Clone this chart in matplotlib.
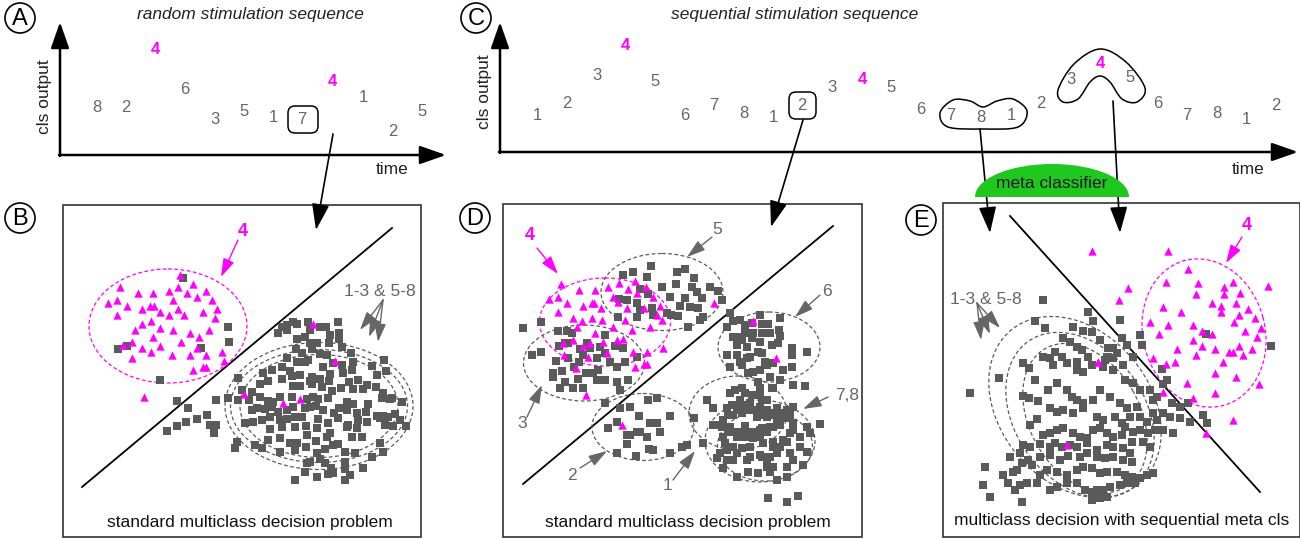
import numpy as np, matplotlib; matplotlib.use("Agg")
import matplotlib.pyplot as plt
from matplotlib.patches import Ellipse, Circle, Rectangle, FancyBboxPatch, PathPatch
from matplotlib.path import Path

plt.rcParams['font.family'] = ['Liberation Sans', 'DejaVu Sans']
GRAY = '#5a5a5a'; MAG = '#ff00ff'; TXT = '#666666'

# ---- sequences (time position, cls output position, label) ----
A_LAB = ['8', '2', '4', '6', '3', '5', '1', '7', '4', '1', '2', '5']
A_T = [97, 126, 155, 185, 215, 244, 273, 302, 332, 363, 393, 422]
A_OUT = [107, 107, 49, 90, 119, 112, 117, 119, 82, 98, 132, 112]
C_LAB = ['1', '2', '3', '4', '5', '6', '7', '8', '1', '2', '3', '4', '5',
         '6', '7', '8', '1', '2', '3', '4', '5', '6', '7', '8', '1', '2']
C_T = [537, 567, 597, 625, 655, 685, 714, 744, 773, 802, 832, 862, 891,
       921, 951, 981, 1011, 1041, 1071, 1100, 1130, 1158, 1187, 1217, 1246, 1276]
C_OUT = [115, 103, 75, 45, 82, 115, 106, 113, 117, 105, 88, 80, 88,
         110, 115, 117, 115, 103, 80, 63, 77, 103, 115, 113, 119, 105]

B_TRI_Z6 = [(120,82),(175,100),(220,100),(268,92),(295,80),(340,72),(378,92),(322,100),(350,110),(395,120),
            (85,128),(110,120),(140,137),(185,148),(210,137),(222,137),(240,157),(278,120),(295,147),(312,165),
            (368,156),(410,147),(110,165),(185,192),(212,183),(240,203),(267,165),(165,210),(278,210),(330,220),
            (358,230),(387,210),(405,175),(157,247),(130,255),(220,230),(240,257),(185,265),(212,275),(302,247),
            (157,293),(275,285),(330,285),(378,285),(350,265),(425,275),(368,320),(378,320),(340,330),(432,303),
            (193,412),(300,45)]
B_SQ_Z6 = [(308,55),(445,202),(448,245),(362,263),(115,267),(140,258),(240,360)]
B_SQ_Z3 = [(350,603),(322,692),(350,678),(377,665),(385,625),(410,658),(440,645)]
B_TRI_Z7 = [(310,42),(375,152),(102,253),(220,278),(270,267)]
B_SQ_Z7 = [(55,52),(58,95),(215,50),(230,45),(248,35),(262,42),(295,35),(330,50),(348,50),(385,35),
           (205,70),(232,60),(300,60),(360,75),(387,70),(262,88),(285,80),(300,100),(322,98),(358,98),(387,88),
           (258,118),(275,128),(305,118),(330,132),(350,135),(423,128),(395,110),
           (230,143),(262,155),(285,155),(295,150),(340,170),(370,160),(397,165),(428,155),(487,168),(522,150),
           (160,190),(185,180),(215,170),(240,182),(270,195),(305,200),(330,207),(360,192),(398,188),(425,180),
           (445,210),(500,195),(528,183),
           (85,203),(150,222),(175,213),(215,208),(245,198),(300,212),(357,212),(417,217),(470,225),(498,230),
           (95,240),(125,245),(250,227),(270,228),(305,222),(335,230),(365,243),(392,235),(430,236),(460,238),
           (520,250),(545,265),
           (55,263),(85,270),(118,270),(150,260),(175,272),(190,275),(210,260),(245,262),(290,268),(310,262),
           (325,268),(355,265),(410,275),(430,282),(475,283),(515,265),(540,268),(577,275),
           (125,300),(140,295),(165,298),(185,292),(205,305),(230,300),(250,292),(285,295),(300,292),(318,287),
           (340,300),(372,310),(387,295),(410,300),(440,310),(467,305),(500,318),(520,318),(535,322),(555,312),
           (105,340),(130,335),(155,330),(180,320),(210,330),(230,328),(255,320),(275,320),(325,328),(355,340),
           (385,325),(415,345),(445,330),(470,335),(510,325),(570,330),(588,348),
           (180,358),(215,350),(255,352),(288,348),(320,355),(360,368),(410,350),(440,355),(525,345),(550,348),
           (80,395),(135,405),(155,415),(175,390),(210,385),(240,400),(262,398),(290,375),(318,393),(350,380),
           (368,405),(385,402),(425,380),(457,380),(510,398),
           (75,415),(210,425),(255,420),(288,410),(320,430),(345,418),(405,425),(435,430),(485,440),(520,425),
           (290,458),(300,455),(345,460),(330,448),(362,475),(368,488),(405,455),(405,478),(460,475),(420,495),
           (255,510),(322,500),(355,492),(405,510),(285,485),
           (18,270),(18,345),(12,370),(0,345)]

D_TRI_Z8 = [(183,252),(238,270),(285,270),(148,298),(173,290),(200,308),(248,318),(275,308),(283,308),(302,325),
            (325,262),(340,290),(358,250),(385,268),(405,243),(410,280),(438,260),(458,290),(480,318),(355,305),
            (380,325),(432,325),(470,345),(175,335),(218,355),(245,362),(275,355),(305,360),(340,380),(375,360),
            (395,390),(450,380),(485,360),(230,380),(285,400),(190,428),(220,420),(250,437),(270,430),(310,425),
            (350,420),(368,418),(400,455),(440,455),(490,445),(192,465),(228,505),(405,500),(432,493),(442,493),
            (320,460),(265,470)]
D_TRI_Z9 = [(78,285),(185,375),(462,8),(580,62),(648,175)]
D_SQ_Z8 = [(370,225),(398,215),(453,198),(442,230),(420,268),(445,282),(412,310),(358,298),(410,352),(485,262),
           (510,290),(530,215),(555,208),(528,252),(582,235),(575,262),(592,275),(555,295),(540,318),(570,322),
           (595,325),(500,340),(512,345),(535,348),(565,380),(455,325),(460,345),
           (68,383),(122,367),(175,393),(200,393),(95,465),(122,455),(178,438),(195,430),(205,428),(168,483),
           (185,512),(158,520),(160,530),(215,398),(240,447),(260,430),(270,445),(290,475),(300,440),(315,458),
           (315,405),(345,438),(370,445),(350,500),(375,485),(410,470),(238,485),(258,520),(278,520),(222,500),
           (205,475),(250,465),(295,510),(330,485),(355,350),(380,300),(420,330)]
D_SQ_Z4 = [(605,295),(630,262),(655,272),(665,300),(600,360),(610,350)]
D_SQ_Z9 = [(15,245),(40,265),(70,265),(110,240),(135,240),(170,245),(180,270),(205,240),(0,265),(55,238),
           # cluster 2
           (135,310),(180,325),(210,322),(265,300),(292,293),(238,348),(270,368),(290,368),(330,348),(145,385),
           (170,365),(200,405),(210,405),(230,395),(262,412),(300,395),(200,432),(240,395),(268,448),(280,450),
           (330,460),(365,440),(172,460),(228,468),(380,435),
           # clusters 1, 7, 8
           (402,355),(430,430),(440,300),(460,325),(458,375),(470,375),(485,380),(490,360),(500,325),(515,315),
           (505,345),(520,345),(525,270),(545,265),(530,330),(540,325),(545,340),(555,315),(565,330),(570,310),
           (580,330),(590,350),(600,345),(600,320),(605,300),(620,300),(635,265),(640,265),(660,240),(600,285),
           (575,285),(555,280),(510,280),(600,265),(595,245),(540,300),(490,410),(505,395),(510,380),(520,395),
           (530,410),(540,395),(555,378),(560,400),(570,395),(580,395),(580,415),(585,405),(595,400),(600,390),
           (600,410),(605,385),(620,395),(630,380),(640,380),(650,370),(660,375),(670,350),(685,355),(690,345),
           (660,340),(650,345),(640,345),(620,350),(620,330),(630,340),(650,325),(680,330),(700,320),(700,370),
           (740,380),(780,372),(750,400),(720,410),(700,390),(690,400),(680,425),(670,420),(640,425),(640,440),
           (660,440),(650,460),(630,470),(620,480),(605,470),(600,465),(570,470),(545,445),(530,460),(520,440),
           (500,450),(495,430),(480,460),(470,475),(490,505),(530,530),(560,480),(565,515),(595,520),(620,500),
           (630,515),(640,500),(650,540),(680,530),(680,500),(700,480),(730,495),(690,460),(720,440),(740,455),
           (610,430),(570,440),(555,410),(520,480),(500,480),(625,595),(680,605),(715,588),
           # cluster 6
           (510,40),(520,62),(500,80),(540,60),(555,75),(575,70),(600,45),(605,72),(625,72),(660,55),
           (658,90),(660,108),(630,100),(605,100),(580,100),(555,100),(530,110),(530,135),(545,120),(560,140),
           (575,115),(600,125),(595,155),(605,160),(635,135),(655,130),(695,145),(695,165),(740,155),(530,165),
           (540,185),(545,195),(570,170),(560,175),(615,185),(600,210),(620,195),(640,190),(670,210),(695,200),
           (510,200),(580,215),(565,220),(630,230),(700,255),(735,258),(520,110),(500,165)]

E_SQ_Z10 = [(308,30),(90,308),(178,263),(445,65),(460,92),(400,110),(430,122),(455,125),(480,150),(540,90),
            (505,175),(520,175),(545,145),(560,165),(578,200),(605,165),(600,135),(315,115),(285,92),(370,145),
            (390,155),(410,170),(425,180),(445,200),(495,210),(520,205),(530,190),(500,200),(330,205),(365,200),
            (345,185),(248,220),(268,235),(310,200),(340,225),(380,220),(410,215),(410,240),(430,245),(455,225),
            (490,230),(520,240),(550,225),(555,270),(580,280),(600,300),(630,300),(640,330),(650,320),(285,270),
            (250,318),(268,325),(295,332),(325,300),(350,280),(380,300),(395,320),(410,330),(430,340),(460,330),
            (480,300),(510,320),(540,340),(560,355),(570,380),(590,350),(600,380),(620,395),(640,370),(650,390),
            (330,355),(350,365),(370,360),(400,370),(430,355),(470,380),(490,390),(525,380),(545,400),(555,410),
            (580,425),(600,420),(625,430),(645,420),(270,405),(290,388),(310,435),(330,430),(350,420),(370,415),
            (400,430),(420,440),(440,445),(460,420),(480,415),(500,430),(520,440),(545,435),(575,455),(610,455),
            (250,465),(270,470),(300,462),(330,472),(345,460),(365,470),(390,465),(410,470),(440,460),(470,480),
            (500,465),(520,470),(550,475),(570,490),(210,500),(240,490),(265,510),(300,500),(330,495),(360,510),
            (385,498),(420,500),(440,490),(470,500),(495,505),(520,500),(550,510),(575,515),(630,470),(640,550),
            (620,555),(600,565),(575,560),(555,555),(530,545),(500,545),(480,550),(455,535),(430,530),(410,540),
            (380,555),(350,545),(320,540),(300,555),(275,525),(245,520),(220,545),(190,555),(135,530),(130,585),
            (150,622),(205,580),(225,600),(240,585),(260,580),(290,578),(330,600),(350,590),(380,580),(410,580),
            (435,600),(455,605),(470,600),(490,600),(510,590),(540,585),(560,580),(585,580),(245,635),(455,630),
            (480,625),(500,620),(230,540)]
E_SQ_Z11 = [(245,508),(260,540),(250,552),(275,610),(300,620),(325,608),(370,645),(380,670),(300,655),(330,665),
            (270,650),(250,640),(250,690),(280,700),(378,402),(572,438)]
E_TRI_Z10 = [(475,215),(380,465)]
E_TRI_Z11 = [(35,152),(265,152),(325,207),(258,245),(355,250),(145,265),(118,300),(458,247),(432,262),(432,282),
             (348,282),(480,280),(565,258),(395,310),(422,318),(422,337),(468,310),(505,328),(248,320),(302,337),
             (210,365),(265,375),(340,375),(365,392),(395,402),(478,345),(525,355),(462,367),(542,383),(495,392),
             (238,402),(532,410),(340,420),(365,438),(292,448),(405,448),(448,457),(460,457),(478,438),(515,448),
             (488,465),(348,465),(220,475),(285,485),(430,485),(258,492),(55,485),(405,520),(468,530),(538,553),
             (320,548),(248,577),(405,580),(340,595),(458,660),(378,698)]


def px(p, x0, y0):
    a = np.array(p, float)
    return x0 + a[:, 0] / 3, y0 + a[:, 1] / 3


def smooth(pts):
    P = np.array(pts, float); n = len(P)
    verts = [P[0]]; codes = [Path.MOVETO]
    for i in range(n):
        p0, p1, p2, p3 = P[i - 1], P[i], P[(i + 1) % n], P[(i + 2) % n]
        verts += [p1 + (p2 - p0) / 6, p2 - (p3 - p1) / 6, p2]
        codes += [Path.CURVE4] * 3
    return Path(verts, codes)


fig = plt.figure(figsize=(13, 5.39), dpi=100)
ax = fig.add_axes([0, 0, 1, 1])
ax.set_xlim(0, 1300); ax.set_ylim(539, 0); ax.axis('off')


def arrow(a, b, c='k', lw=1.2, hl=0.9, hw=0.3, ms=20, z=5):
    ax.annotate('', xy=b, xytext=a, arrowprops=dict(
        arrowstyle='-|>,head_length=%g,head_width=%g' % (hl, hw), color=c, lw=lw,
        mutation_scale=ms, shrinkA=0, shrinkB=0), zorder=z)


def letter(x, y, s):
    ax.add_patch(Circle((x, y), 15, fill=False, ec='k', lw=1.2))
    ax.text(x, y + 1, s, ha='center', va='center', fontsize=17, color='k')


# ---- top panels A and C ----
for (x0, x1, ybase) in [(60, 446, 155), (500, 1298, 152)]:
    arrow((x0, ybase + 1), (x0, 22), lw=1.8, hl=1.0, hw=0.35, ms=16)
    arrow((x0 - 1, ybase), (x1, ybase), lw=1.8, hl=1.0, hw=0.35, ms=16)
ax.text(44, 97, 'cls output', rotation=90, ha='center', va='center', fontsize=12.5, color='#222')
ax.text(484, 92, 'cls output', rotation=90, ha='center', va='center', fontsize=12.5, color='#222')
ax.text(392, 169, 'time', ha='center', va='center', fontsize=12.5, color='#222')
ax.text(1248, 170, 'time', ha='center', va='center', fontsize=12.5, color='#222')
ax.text(250, 15, 'random stimulation sequence', ha='center', va='center', fontsize=12.5, style='italic', color='#222')
ax.text(795, 15, 'sequential stimulation sequence', ha='center', va='center', fontsize=12.5, style='italic', color='#222')
letter(20, 18, 'A'); letter(476, 18, 'C')

for lab, t, o in list(zip(A_LAB, A_T, A_OUT)) + list(zip(C_LAB, C_T, C_OUT)):
    if lab == '4':
        ax.text(t, o, lab, ha='center', va='center', fontsize=12, color=MAG, fontweight='bold')
    else:
        ax.text(t, o, lab, ha='center', va='center', fontsize=12, color=TXT)

ax.add_patch(FancyBboxPatch((288, 106), 30, 27, boxstyle='round,pad=0,rounding_size=7', fill=False, ec='k', lw=1.1))
ax.add_patch(FancyBboxPatch((789, 92), 27, 27, boxstyle='round,pad=0,rounding_size=7', fill=False, ec='k', lw=1.1))
ax.add_patch(PathPatch(smooth([(940, 113), (953, 100), (970, 101), (983, 107), (997, 101), (1013, 99),
                               (1027, 111), (1018, 127), (983, 129), (948, 127)]), fill=False, ec='k', lw=1.1))
ax.add_patch(PathPatch(smooth([(1058, 90), (1074, 64), (1100, 49), (1126, 62), (1145, 88), (1137, 102),
                               (1122, 99), (1110, 82), (1100, 76), (1090, 82), (1078, 99), (1063, 102)]),
                       fill=False, ec='k', lw=1.1))

# ---- arrows to lower panels ----
arrow((333, 134), (316, 230), ms=18)
arrow((803, 120), (771, 227), ms=18)
arrow((980, 129), (990, 233), ms=18)
arrow((1113, 101), (1120, 233), ms=18)
g = Ellipse((1052, 197), 154, 66, fc='#1fc81f', ec='none', zorder=6)
ax.add_patch(g)
g.set_clip_path(Rectangle((960, 150), 190, 47, transform=ax.transData))
ax.text(1052, 184, 'meta classifier', ha='center', va='center', fontsize=12.5, color='#1a1a1a', zorder=7)

# ---- lower panel frames ----
for (x0, y0, x1, y1) in [(63, 205, 421, 537), (503, 204, 862, 537), (943, 203, 1300, 537)]:
    ax.add_patch(Rectangle((x0, y0), x1 - x0, y1 - y0, fill=False, ec='#333', lw=1.2, zorder=1))
letter(20, 218, 'B'); letter(475, 218, 'D'); letter(921, 220, 'E')
ax.text(250, 522, 'standard multiclass decision problem', ha='center', va='center', fontsize=12.5, color='#111')
ax.text(688, 522, 'standard multiclass decision problem', ha='center', va='center', fontsize=12.5, color='#111')
ax.text(1122, 520, 'multiclass decision with sequential meta cls', ha='center', va='center', fontsize=12.5, color='#111')

SQ = dict(marker='s', s=32, c=GRAY, linewidths=0, zorder=3)
TR = dict(marker='^', s=36, c=MAG, linewidths=0, zorder=4)

# panel B
for arr, o in [(B_SQ_Z6, (80, 260)), (B_SQ_Z3, (60, 200)), (B_SQ_Z7, (210, 310))]:
    ax.scatter(*px(arr, *o), **SQ)
for arr, o in [(B_TRI_Z6, (80, 260)), (B_TRI_Z7, (210, 310))]:
    ax.scatter(*px(arr, *o), **TR)
ax.plot([82, 392], [487, 228], color='k', lw=1.3, zorder=2)
dash = (0, (3, 2))
ax.add_patch(Ellipse((168, 326), 158, 114, fill=False, ec=MAG, lw=0.9, ls=dash, zorder=2))
for w, h in [(188, 127), (177, 113), (158, 103)]:
    ax.add_patch(Ellipse((319, 406), w, h, fill=False, ec=GRAY, lw=0.9, ls=dash, zorder=2))
ax.text(243, 231, '4', ha='center', va='center', fontsize=13, color=MAG, fontweight='bold')
arrow((238, 240), (221, 277), c=MAG, lw=1.0, hl=0.8, hw=0.25, ms=14)
ax.text(380, 292, '1-3 & 5-8', ha='center', va='center', fontsize=12.5, color=TXT)
for tip in [(360, 330), (369, 337), (378, 342)]:
    arrow((383, 300), tip, c=TXT, lw=1.0, hl=0.8, hw=0.25, ms=14)

# panel D
for arr, o in [(D_SQ_Z8, (500, 200)), (D_SQ_Z4, (500, 200)), (D_SQ_Z9, (560, 300))]:
    ax.scatter(*px(arr, *o), **SQ)
for arr, o in [(D_TRI_Z8, (500, 200)), (D_TRI_Z9, (560, 300))]:
    ax.scatter(*px(arr, *o), **TR)
ax.plot([523, 833], [484, 226], color='k', lw=1.3, zorder=2)
ax.add_patch(Ellipse((605, 322), 131, 88, fill=False, ec=MAG, lw=0.9, ls=dash, zorder=2))
for (cx, cy, w, h) in [(662, 292, 122, 77), (584, 363, 121, 76), (769, 347, 102, 70), (643, 427, 102, 67),
                       (738, 413, 98, 74), (760, 441, 110, 82), (765, 446, 95, 70)]:
    ax.add_patch(Ellipse((cx, cy), w, h, fill=False, ec=GRAY, lw=0.9, ls=dash, zorder=2))
ax.text(530, 235, '4', ha='center', va='center', fontsize=13, color=MAG, fontweight='bold')
arrow((537, 248), (558, 274), c=MAG, lw=1.0, hl=0.8, hw=0.25, ms=14)
for s, tp, a, b in [('5', (717, 229), (712, 237), (687, 257)), ('6', (827, 291), (820, 295), (795, 317)),
                    ('7,8', (847, 395), (828, 397), (803, 409)), ('3', (522, 423), (527, 417), (542, 385)),
                    ('2', (572, 475), (580, 468), (607, 451)), ('1', (667, 486), (673, 480), (695, 451))]:
    ax.text(*tp, s, ha='center', va='center', fontsize=12.5, color=TXT)
    arrow(a, b, c=TXT, lw=1.0, hl=0.8, hw=0.25, ms=14)

# panel E
for arr, o in [(E_SQ_Z10, (940, 290)), (E_SQ_Z11, (1080, 200))]:
    ax.scatter(*px(arr, *o), **SQ)
for arr, o in [(E_TRI_Z10, (940, 290)), (E_TRI_Z11, (1080, 200))]:
    ax.scatter(*px(arr, *o), **TR)
ax.plot([1010, 1260], [216, 492], color='k', lw=1.3, zorder=2)
ax.add_patch(Ellipse((1204, 333), 150, 122, angle=75, fill=False, ec=MAG, lw=0.9, ls=dash, zorder=2))
for (cx, cy, w, h, an) in [(1075, 407, 200, 150, 50), (1080, 415, 180, 130, 55), (1085, 418, 160, 110, 60)]:
    ax.add_patch(Ellipse((cx, cy), w, h, angle=an, fill=False, ec=GRAY, lw=0.9, ls=dash, zorder=2))
ax.text(1247, 226, '4', ha='center', va='center', fontsize=13, color=MAG, fontweight='bold')
arrow((1242, 237), (1226, 263), c=MAG, lw=1.0, hl=0.8, hw=0.25, ms=14)
ax.text(986, 300, '1-3 & 5-8', ha='center', va='center', fontsize=12.5, color=TXT)
for tip in [(981, 340), (990, 334), (1000, 328)]:
    arrow((977, 303), tip, c=TXT, lw=1.0, hl=0.8, hw=0.25, ms=14)

plt.savefig('out.png', dpi=100)
